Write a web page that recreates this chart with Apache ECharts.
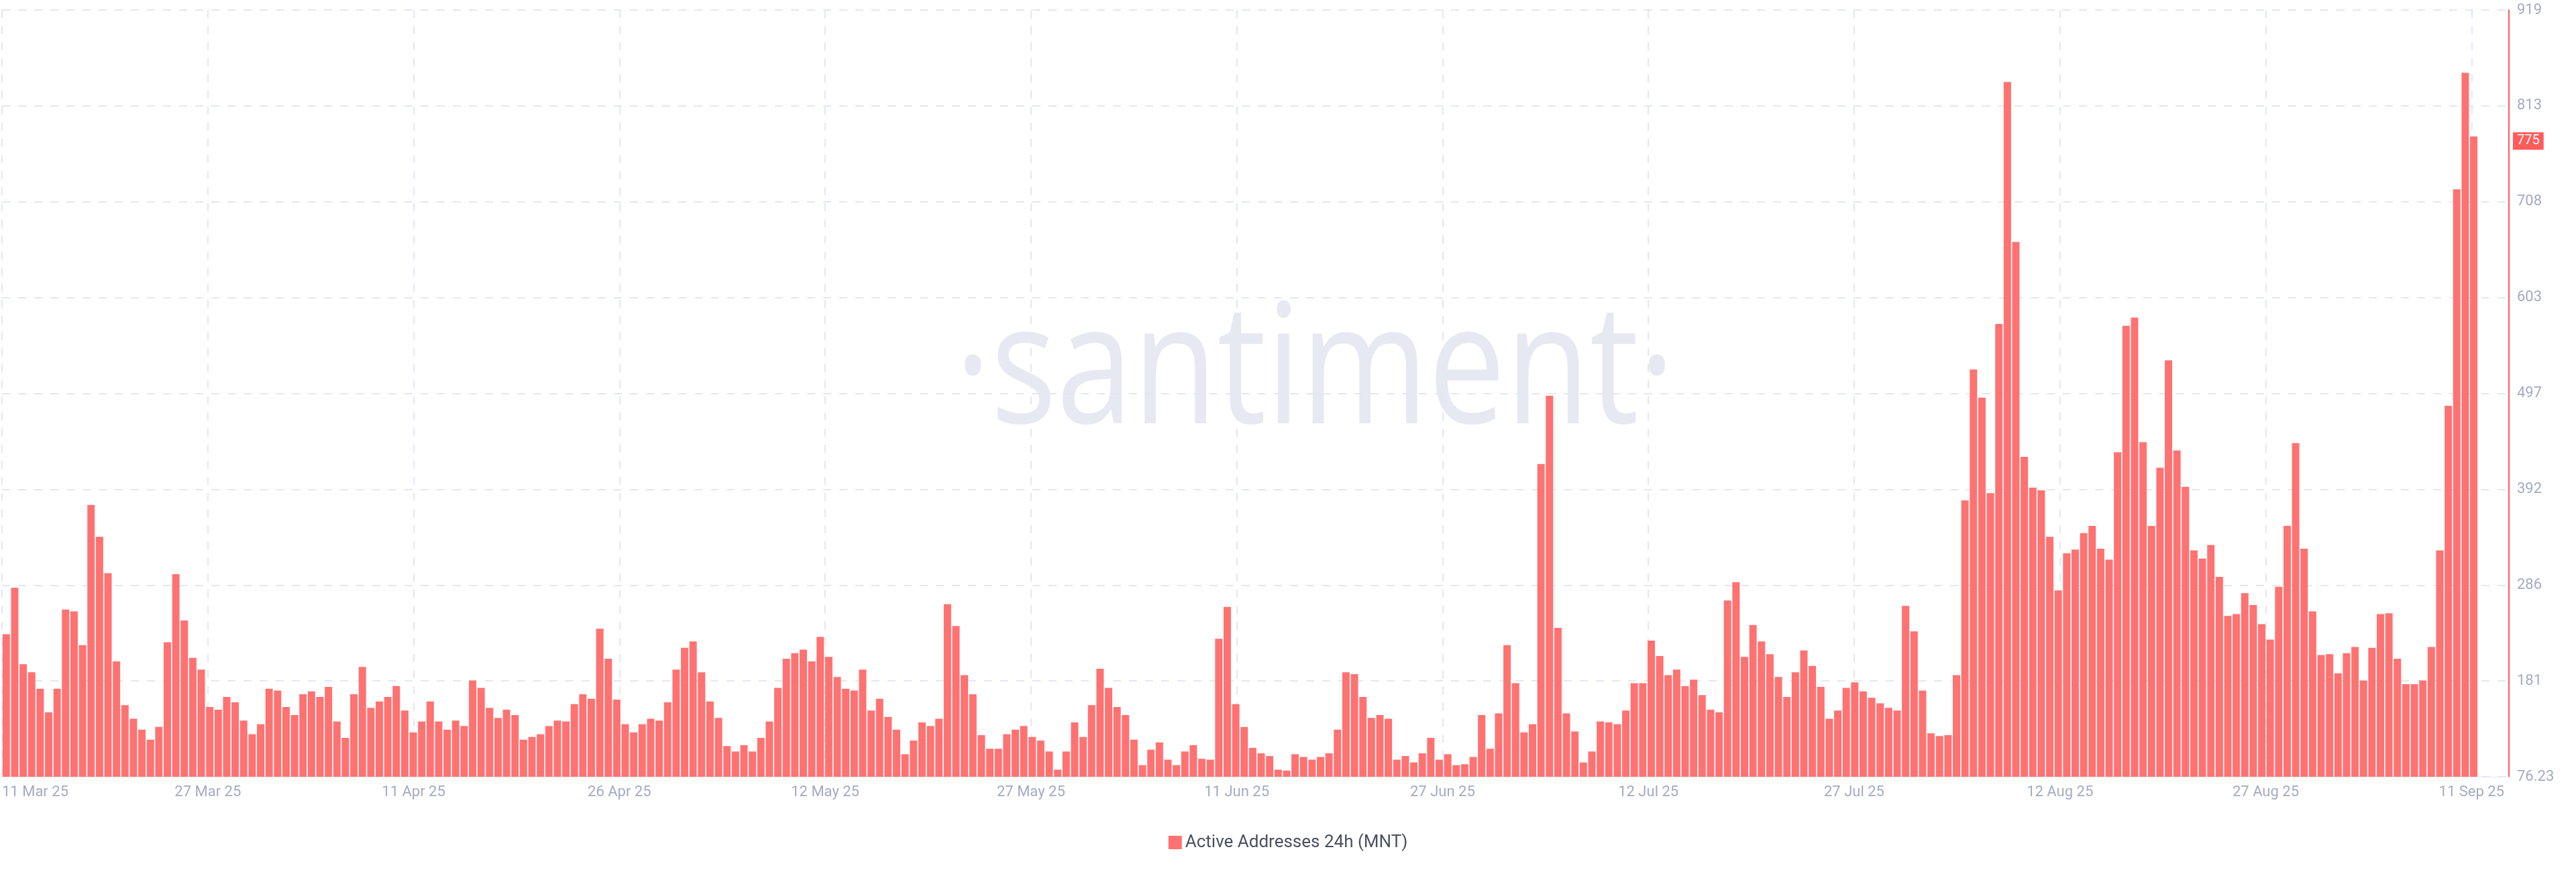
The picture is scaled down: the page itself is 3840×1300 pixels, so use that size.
<!DOCTYPE html>
<html>
<head>
<meta charset="utf-8">
<script src="https://cdn.jsdelivr.net/npm/echarts@6/dist/echarts.min.js"></script>
<style>
    html, body { margin:0; padding:0; background:#fff; }
    #main { width:3840px; height:1300px; }
</style>
</head>
<body>
<div id="main"></div>
<script>
    // one bar per ~15h bucket, 11 Mar 25 -> 11 Sep 25
    var values_mar_apr = [233,284,200,191,173,147,173,260,258,221,
        375,340,300,203,155,140,128,117,131,224,
        299,248,207,194,153,150,164,158,138,123,
        134,173,171,153,144,167,170,164,175,137,
        119,167,197,152,159,164,176,149,125];
    var values_apr_may = [137,159,137,128,138,132,182,174,152,141,
        150,144,117,120,123,132,138,137,156,167,
        162,239,206,161,134,125,134,140,138,158,
        194,218,225,191,159,141,110,104,111,104,
        119,137,174,206,212,216,203,230,208];
    var values_may_jun = [186,173,171,194,149,162,142,128,101,116,
        136,132,140,266,242,188,167,122,107,107,
        123,128,132,120,116,104,84,104,136,120,
        155,195,174,153,144,117,89,106,114,95,
        89,104,111,96,95,228,263,156,131];
    var values_jun_jul = [108,102,99,84,83,101,98,95,98,102,
        128,191,189,164,141,144,140,95,99,92,
        102,119,95,101,89,90,98,144,107,146,
        221,179,125,134,420,495,240,146,126,92,
        104,137,136,134,149,179,179,226,209];
    var values_jul_aug = [188,194,176,183,166,150,147,270,290,208,
        243,225,211,186,164,191,215,198,175,140,
        149,174,180,170,163,157,152,149,264,236,
        171,124,121,122,188,380,524,493,388,574,
        840,664,428,394,391,340,281,322,326,344,
        352,327,315,433];
    var values_aug_sep = [572,581,444,352,416,534,435,395,325,316,
        331,296,253,255,278,265,244,227,285,352,
        443,327,258,210,211,190,212,219,182,218,
        255,256,206,178,178,182,219,325,484,722,
        850,780];
    var date_labels = ['11 Mar 25','27 Mar 25','11 Apr 25','26 Apr 25','12 May 25','27 May 25',
        '11 Jun 25','27 Jun 25','12 Jul 25','27 Jul 25','12 Aug 25','27 Aug 25','11 Sep 25'];
    var y_labels = ['76.23','181','286','392','497','603','708','813','919'];
    var last_value = 775;

    var all_values = [].concat(values_mar_apr, values_apr_may, values_may_jun,
        values_jun_jul, values_jul_aug, values_aug_sep);
    var bar_data = all_values.map(function(v, i){ return [i + 0.5, v]; });
    var x_step = 24.27;
    var y_min = 76.23, y_step = 105.35;

    var chart = echarts.init(document.getElementById('main'));
    chart.setOption({
        animation:false,
        backgroundColor:'#fff',
        graphic:[{
            type:'text',
            x:1960,
            y:560,
            scaleX:0.82,
            z:0,
            style:{
                text:'·santiment·',
                fontSize:250,
                fontFamily:'Open Sans',
                fill:'#e6e9f2',
                align:'center',
                verticalAlign:'middle'
            }
        }],
        legend:{
            bottom:26,
            left:'center',
            icon:'rect',
            itemWidth:20,
            itemHeight:20,
            textStyle:{color:'#4a5060', fontSize:26, fontFamily:'Roboto'},
            data:['Active Addresses 24h (MNT)']
        },
        grid:{left:0, right:100, top:15, bottom:142},
        xAxis:{
            type:'value',
            min:0,
            max:295.65,
            interval:x_step,
            axisLine:{show:true, lineStyle:{color:'#e4e7f0'}},
            axisTick:{show:false},
            splitLine:{show:true, lineStyle:{color:'#e4e7f0', type:[12,12], width:2}},
            axisLabel:{
                color:'#a3abc4', fontSize:22, fontFamily:'Roboto', margin:12,
                alignMinLabel:'left', showMaxLabel:false,
                formatter:function(v){ return date_labels[Math.round(v / x_step)] || ''; }
            }
        },
        yAxis:{
            type:'value',
            position:'right',
            min:y_min,
            max:y_min + 8 * y_step,
            interval:y_step,
            axisLine:{show:true, onZero:false, lineStyle:{color:'#ff5b5b', width:2}},
            axisTick:{show:false},
            splitLine:{show:true, lineStyle:{color:'#e4e7f0', type:[12,12], width:2}},
            axisLabel:{
                color:'#a3abc4', fontSize:22, fontFamily:'Roboto', margin:12,
                formatter:function(v){ return y_labels[Math.round((v - y_min) / y_step)]; }
            }
        },
        series:[{
            name:'Active Addresses 24h (MNT)',
            type:'bar',
            data:bar_data,
            barWidth:11,
            itemStyle:{color:'#ff7272'},
            markLine:{
                silent:true,
                symbol:'none',
                lineStyle:{color:'rgba(0,0,0,0)', width:0},
                label:{
                    show:true,
                    position:'end',
                    formatter:String(last_value),
                    color:'#fff',
                    backgroundColor:'#ff5b5b',
                    fontSize:20,
                    fontFamily:'Roboto',
                    padding:[3,6],
                    distance:6
                },
                data:[{yAxis:last_value}]
            }
        }]
    });
</script>
</body>
</html>
